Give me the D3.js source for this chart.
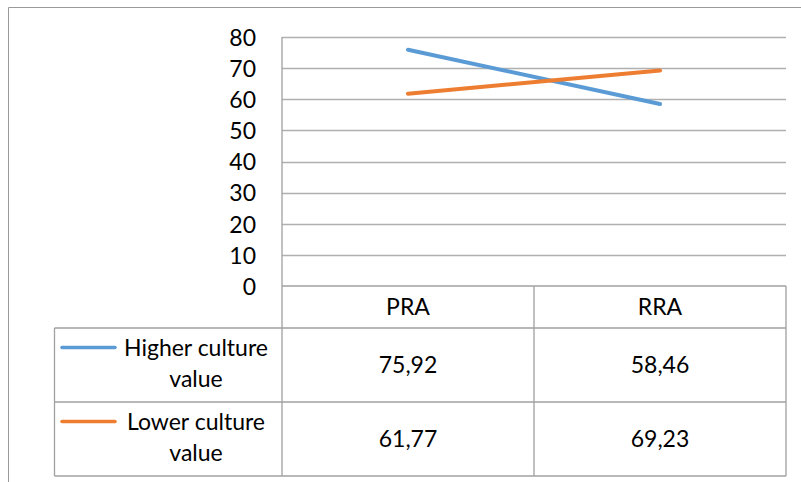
<!DOCTYPE html>
<html>
<head>
<meta charset="utf-8">
<script src="https://cdn.jsdelivr.net/npm/d3@7"></script>
<style>
  html, body { margin: 0; padding: 0; background: #fff; }
  svg { display: block; }
  text { font-family: Lato, "Open Sans", sans-serif; fill: #000; }
</style>
</head>
<body>
<svg id="chart" width="801" height="482"></svg>
<script>
// Categories along the x axis
const categories = ["PRA", "RRA"];
// Series names, colours and values
const seriesNames = ["Higher culture value", "Lower culture value"];
const seriesLabelLines = [["Higher culture", "value"], ["Lower culture", "value"]];
const higherValues = [75.92, 58.46];
const lowerValues = [61.77, 69.23];
const seriesValues = [higherValues, lowerValues];
const seriesColors = ["#5B9BD5", "#ED7D31"];
// Axis ticks
const yTicks = [0, 10, 20, 30, 40, 50, 60, 70, 80];

const svg = d3.select("#chart");

const plotLeft = 282, plotRight = 786, plotTop = 37, plotBottom = 286;
const tableLeft = 54.5, headerBottom = 328, rowH = 74;
const tableBottom = headerBottom + rowH * seriesNames.length;

const x = d3.scaleBand().domain(categories).range([plotLeft, plotRight]);
const y = d3.scaleLinear().domain([0, 80]).range([plotBottom, plotTop]);

// Outer chart frame
svg.append("path")
  .attr("d", `M8.5,482 V7.5 H801`)
  .attr("fill", "none").attr("stroke", "#9a9a9a").attr("stroke-width", 1);

// Horizontal gridlines
svg.append("g").selectAll("line").data(yTicks.filter(d => d > 0)).join("line")
  .attr("x1", plotLeft).attr("x2", plotRight)
  .attr("y1", d => Math.round(y(d)) + 0.5).attr("y2", d => Math.round(y(d)) + 0.5)
  .attr("stroke", "#b0b0b0").attr("stroke-width", 1.3);

// Y axis labels
const yAxis = d3.axisLeft(y).tickValues(yTicks).tickSize(0).tickPadding(0)
  .tickFormat(d3.format("d"));
const gy = svg.append("g").attr("transform", `translate(256,0)`).call(yAxis);
gy.select(".domain").remove();
gy.selectAll("text").attr("font-size", 23).attr("font-family", "Lato, sans-serif")
  .attr("fill", "#000").attr("dy", "0.36em");

// Data table grid
const grid = svg.append("g").attr("stroke", "#a0a0a0").attr("stroke-width", 1.3).attr("fill", "none");
// header top (zero line) and row separators
grid.append("line").attr("x1", plotLeft).attr("x2", plotRight).attr("y1", plotBottom).attr("y2", plotBottom);
d3.range(seriesNames.length + 1).forEach(i => {
  const yy = headerBottom + i * rowH;
  grid.append("line").attr("x1", tableLeft).attr("x2", plotRight).attr("y1", yy).attr("y2", yy);
});
// verticals
grid.append("line").attr("x1", plotLeft).attr("x2", plotLeft).attr("y1", plotTop).attr("y2", tableBottom);
grid.append("line").attr("x1", tableLeft).attr("x2", tableLeft).attr("y1", headerBottom).attr("y2", tableBottom);
categories.forEach(c => {
  const xr = x(c) + x.bandwidth();
  grid.append("line").attr("x1", xr).attr("x2", xr).attr("y1", plotBottom).attr("y2", tableBottom);
});

// Category headers
svg.append("g").selectAll("text").data(categories).join("text")
  .attr("x", d => x(d) + x.bandwidth() / 2)
  .attr("y", (plotBottom + headerBottom) / 2)
  .attr("dy", "0.36em")
  .attr("text-anchor", "middle").attr("font-size", 23)
  .text(d => d);

// Table value cells
seriesValues.forEach((vals, si) => {
  const cy = headerBottom + si * rowH + rowH / 2;
  svg.append("g").selectAll("text").data(vals).join("text")
    .attr("x", (d, i) => x(categories[i]) + x.bandwidth() / 2)
    .attr("y", cy).attr("dy", "0.36em")
    .attr("text-anchor", "middle").attr("font-size", 23)
    .text(d => d3.format(".2f")(d).replace(".", ","));

  // Legend key and series name
  const labelCx = 196;
  const lines = seriesLabelLines[si];
  const t = svg.append("text").attr("text-anchor", "middle").attr("font-size", 23);
  lines.forEach((ln, li) => {
    t.append("tspan").attr("x", labelCx).attr("y", cy - 9 + li * 31).text(ln);
  });
  svg.append("line")
    .attr("x1", 62).attr("x2", 115)
    .attr("y1", cy - 17.5).attr("y2", cy - 17.5)
    .attr("stroke", seriesColors[si]).attr("stroke-width", 3.5).attr("stroke-linecap", "round");
});

// Series lines
const line = d3.line()
  .x((d, i) => x(categories[i]) + x.bandwidth() / 2)
  .y(d => y(d));
svg.append("g").selectAll("path").data(seriesValues).join("path")
  .attr("d", d => line(d))
  .attr("fill", "none")
  .attr("stroke", (d, i) => seriesColors[i])
  .attr("stroke-width", 4)
  .attr("stroke-linecap", "round");
</script>
</body>
</html>
